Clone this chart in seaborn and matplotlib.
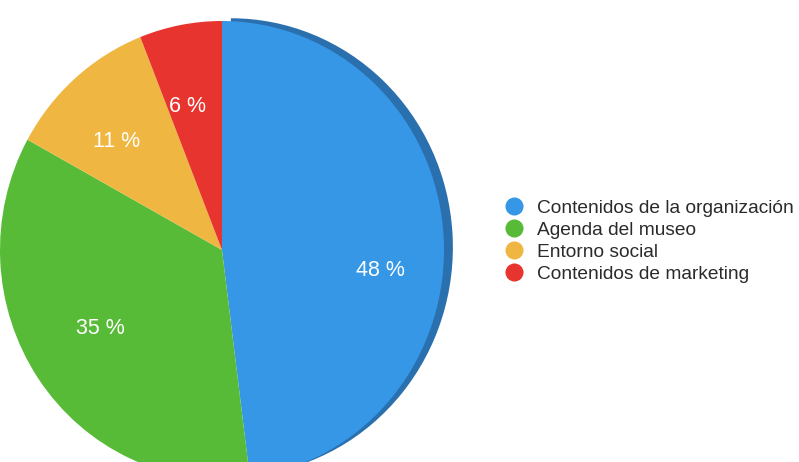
import matplotlib.pyplot as plt
import seaborn as sns
from matplotlib.lines import Line2D

categories = ['Contenidos de la organización', 'Agenda del museo',
              'Entorno social', 'Contenidos de marketing']
shares = [48, 35, 11, 6]
colors = ['#3697e6', '#57bb37', '#efb742', '#e8342f']
rim_colors = ['#2a6fae', 'none', 'none', 'none']

sns.set_theme(style='white')
plt.rcParams['font.family'] = ['Liberation Sans', 'DejaVu Sans']

fig = plt.figure(figsize=(7.99, 4.62), dpi=100)
# pie is slightly tilted and runs off the bottom of the picture
ax = fig.add_axes([0 / 799, -17 / 462, 444 / 799, 458 / 462])

# darker rim on the upper right side of the blue slice
ax.pie(shares, colors=rim_colors, startangle=90, counterclock=False,
       center=(0.04, 0.012), radius=1.0, wedgeprops=dict(linewidth=0))

wedges, texts, autotexts = ax.pie(
    shares, colors=colors, startangle=90, counterclock=False,
    autopct=lambda p: f'{p:.0f} %', pctdistance=0.67,
    wedgeprops=dict(linewidth=0),
    textprops=dict(color='white', fontsize=15.5))
# nudge labels a little to where the tilted pie puts them
nudges = [None, (0.005, 0.035), (-0.03, -0.03), (-0.03, -0.03)]
x, y = autotexts[0].get_position()
autotexts[0].set_position((x * 1.07, y - 0.13))
for t, d in zip(autotexts[1:], nudges[1:]):
    x, y = t.get_position()
    t.set_position((x + d[0], y + d[1]))

ax.set_xlim(-1.0, 1.0)
ax.set_ylim(-1.0, 1.0)
ax.set_aspect('auto')
ax.axis('off')

handles = [Line2D([], [], marker='o', linestyle='none', markersize=13,
                  markerfacecolor=c, markeredgewidth=0) for c in colors]
fig.legend(handles, categories, loc='center left',
           bbox_to_anchor=(493 / 799, 1 - 241 / 462), frameon=False,
           fontsize=13.8, labelcolor='#2a2a2a', handletextpad=0.6,
           labelspacing=0.24, handlelength=1.2, borderpad=0)

fig.savefig('out.png', dpi=100)
